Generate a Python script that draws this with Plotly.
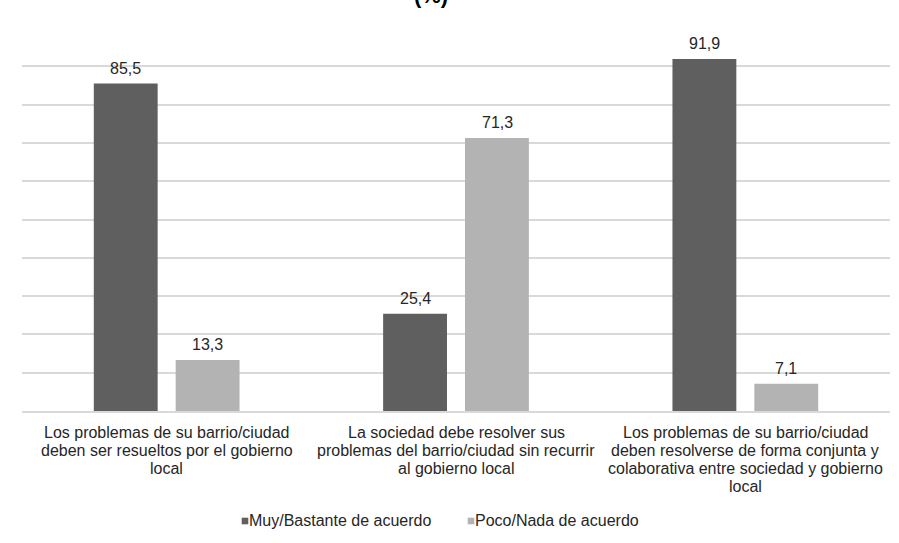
import plotly.graph_objects as go

categories = [
    "Los problemas de su barrio/ciudad<br>deben ser resueltos por el gobierno<br>local",
    "La sociedad debe resolver sus<br>problemas del barrio/ciudad sin recurrir<br>al gobierno local",
    "Los problemas de su barrio/ciudad<br>deben resolverse de forma conjunta y<br>colaborativa entre sociedad y gobierno<br>local",
]
series_names = ["Muy/Bastante de acuerdo", "Poco/Nada de acuerdo"]
muy_bastante = [85.5, 25.4, 91.9]
poco_nada = [13.3, 71.3, 7.1]
series_values = [muy_bastante, poco_nada]
series_colors = ["#5f5f5f", "#b3b3b3"]

FONT = "Liberation Sans, Arial, sans-serif"
TEXT = "#262626"

W, H = 899, 543
ML, MR, MT, MB = 22, 9, 28, 132
PW, PH = W - ML - MR, H - MT - MB


def px_x(px):
    return (px - ML) / PW


def px_y(py):
    return (H - MB - py) / PH


fig = go.Figure()
for name, vals, col in zip(series_names, series_values, series_colors):
    fig.add_trace(go.Bar(
        name=name, x=categories, y=vals,
        marker=dict(color=col, line=dict(width=0)),
        hoverinfo="skip", showlegend=False,
    ))

# value labels above each bar, decimal comma
offsets = [-41, 41]
for vals, dx in zip(series_values, offsets):
    for cat, v in zip(categories, vals):
        fig.add_annotation(
            x=cat, y=v, xref="x", yref="y",
            text=f"{v:.1f}".replace(".", ","),
            showarrow=False, xshift=dx, yanchor="bottom", yshift=5,
            font=dict(family=FONT, size=16, color=TEXT),
        )

# category labels, one annotation per line for tighter line spacing
LINE_STEP = 18.3
for cat in categories:
    for i, line in enumerate(cat.split("<br>")):
        fig.add_annotation(
            x=cat, y=0, xref="x", yref="y", text=line,
            showarrow=False, xanchor="center", yanchor="middle",
            yshift=-(21 + i * LINE_STEP),
            font=dict(family=FONT, size=16, color=TEXT),
        )

# legend: small swatch followed by the series name
legend_items = [(241.7, 248.3), (467.7, 474.3)]
LEG_Y = 521
for (x0, x1), name, col in zip(legend_items, series_names, series_colors):
    fig.add_shape(
        type="rect", xref="paper", yref="paper",
        x0=px_x(x0), x1=px_x(x1), y0=px_y(LEG_Y + 3.3), y1=px_y(LEG_Y - 3.3),
        fillcolor=col, line=dict(width=0),
    )
    fig.add_annotation(
        x=px_x(x1 - 1), y=px_y(LEG_Y - 0.5), xref="paper", yref="paper",
        text=name, showarrow=False, xanchor="left", yanchor="middle",
        font=dict(family=FONT, size=16, color=TEXT),
    )

fig.update_layout(
    width=W, height=H,
    margin=dict(l=ML, r=MR, t=MT, b=MB),
    paper_bgcolor="white", plot_bgcolor="white",
    barmode="group", bargap=0.434, bargroupgap=0.22,
    title=dict(
        text="<b>(%)</b>", x=431 / W, xanchor="center",
        y=1 - 3 / H, yanchor="bottom", yref="container",
        font=dict(family=FONT, size=22, color="black"),
    ),
    font=dict(family=FONT, size=16, color=TEXT),
    showlegend=False,
    xaxis=dict(
        showgrid=False, showline=True, linecolor="#d9d9d9", linewidth=1.5,
        ticks="", showticklabels=False, fixedrange=True,
    ),
    yaxis=dict(
        range=[0, 100], dtick=10, showgrid=True, gridcolor="#d9d9d9",
        gridwidth=1.5, showticklabels=False, zeroline=False, ticks="",
        fixedrange=True,
    ),
)

fig.write_html("out.html")
